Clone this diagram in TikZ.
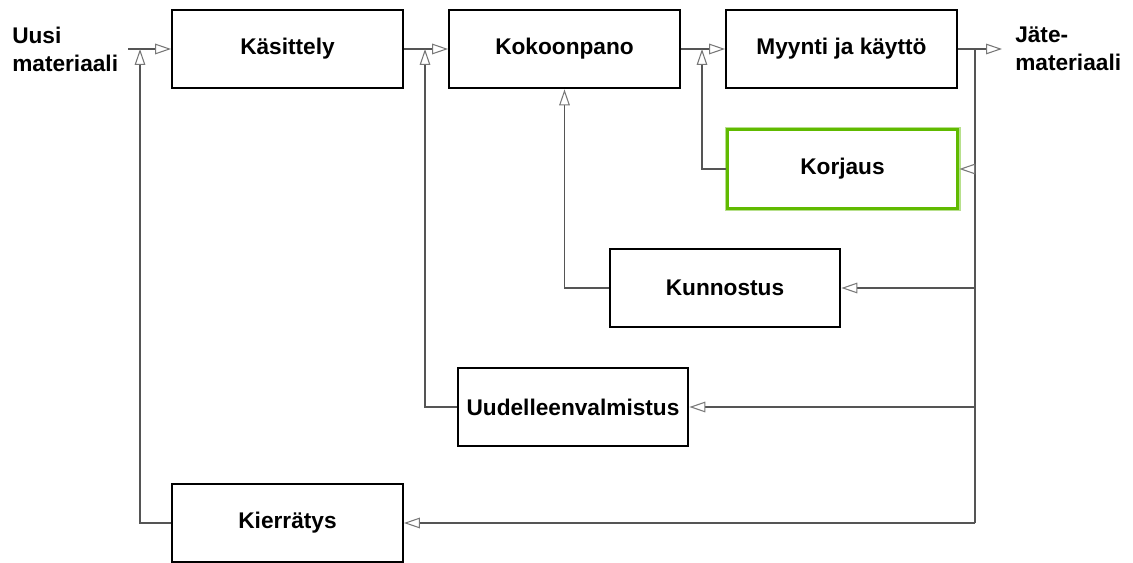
\documentclass[tikz,border=0pt]{standalone}
\usepackage{fontspec}
\setmainfont{Liberation Sans}
\usetikzlibrary{arrows.meta,positioning}

\definecolor{viivanvari}{RGB}{85,85,85}
\definecolor{karkivari}{RGB}{120,120,120}
\definecolor{vihrea}{RGB}{96,186,0}

\tikzset{
  teksti/.style={font=\bfseries\fontsize{17}{21}\selectfont, inner sep=0pt},
  vaihe/.style={teksti, draw=black, line width=1.6pt, fill=white,
    minimum width=173pt, minimum height=59pt},
  korostus/.style={vaihe, draw=vihrea, line width=2.2pt,
    preaction={draw=vihrea!45, line width=4pt}},
  viiva/.style={draw=viivanvari, line width=0.8pt},
  yhteys/.style={viiva, -{Triangle[open, length=12pt, width=8pt, color=karkivari]}}
}

\begin{document}
\begin{tikzpicture}[x=0.75pt, y=-0.75pt]
  \useasboundingbox (0,0) rectangle (1133,563);

  % paaketju
  \node[vaihe] (kasittely) at (287.5,49) {Käsittely};
  \node[vaihe] (kokoonpano) at (564.5,49) {Kokoonpano};
  \node[vaihe] (myynti) at (841.5,49) {Myynti ja käyttö};

  % paluukierrot
  \node[korostus] (korjaus) at (842.5,169) {Korjaus};
  \node[vaihe] (kunnostus) at (725,288) {Kunnostus};
  \node[vaihe] (uudelleen) at (573,407) {Uudelleenvalmistus};
  \node[vaihe] (kierratys) at (287.5,523) {Kierrätys};

  \node[teksti, anchor=west, align=left] (uusi) at (12,49) {Uusi\\materiaali};
  \node[teksti, anchor=west, align=left] (jate) at (1015,49) {Jäte-\\materiaali};

  \coordinate (alku) at (128,49);
  \coordinate (loppu) at (1002,49);
  \coordinate (jako) at (975,49);
  \coordinate (liitos1) at (140,49);
  \coordinate (liitos2) at (425,49);
  \coordinate (liitos3) at (702,49);

  \draw[yhteys] (alku) -- (kasittely);
  \draw[yhteys] (kasittely) -- (kokoonpano);
  \draw[yhteys] (kokoonpano) -- (myynti);
  \draw[yhteys] (myynti) -- (loppu);

  \draw[viiva] (jako) -- (jako |- kierratys.east);
  \draw[yhteys] (jako |- korjaus.east) -- (korjaus.east);
  \draw[yhteys] (jako |- kunnostus.east) -- (kunnostus.east);
  \draw[yhteys] (jako |- uudelleen.east) -- (uudelleen.east);
  \draw[yhteys] (jako |- kierratys.east) -- (kierratys.east);

  \draw[yhteys] (korjaus.west) -| (liitos3);
  \draw[yhteys] (kunnostus.west) -| (kokoonpano.south);
  \draw[yhteys] (uudelleen.west) -| (liitos2);
  \draw[yhteys] (kierratys.west) -| (liitos1);
\end{tikzpicture}
\end{document}
